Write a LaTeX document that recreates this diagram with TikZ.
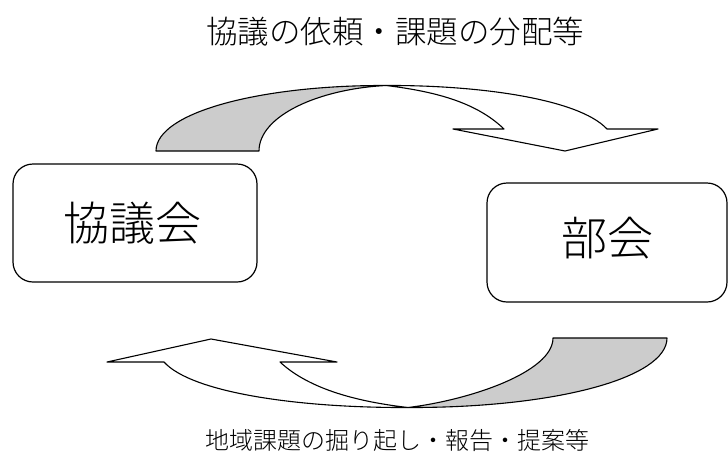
\documentclass[tikz,border=0pt]{standalone}
\usepackage{fontspec}
\newfontfamily\jp{Noto Sans CJK JP Light}
\tikzset{
  box/.style={draw, line width=1.2pt, rounded corners=20pt},
  band/.style={draw, line width=1.1pt, line join=round},
  lbl/.style={font=\jp, inner sep=0pt, anchor=center},
}
\begin{document}
\begin{tikzpicture}[x=1pt,y=-1pt]
\useasboundingbox (0,0) rectangle (728,466);
% boxes
\draw[box] (13,164) rectangle (257,282);
\draw[box] (487,183) rectangle (727,302);
\node[lbl, font=\jp\fontsize{46pt}{46pt}\selectfont] (kyogikai) at (132,223) {協議会};
\node[lbl, font=\jp\fontsize{46pt}{46pt}\selectfont] (bukai) at (607,238) {部会};
% top curved arrow
\draw[band, fill=black!20] (156,151) .. controls (156,112) and (262,85) .. (386,85.5)
   .. controls (318,89) and (259,116) .. (259,151) -- cycle;
\draw[band, fill=white] (386,85.5) .. controls (475,85) and (578,98) .. (607,129)
   -- (658,129) -- (565,151) -- (453,129) -- (504,129)
   .. controls (478,104) and (440,92) .. (386,85.5) -- cycle;
% bottom curved arrow
\draw[band, fill=black!20] (553,338) -- (667,338)
   .. controls (667,378) and (555,408) .. (408,407.5)
   .. controls (470,400) and (553,372) .. (553,338) -- cycle;
\draw[band, fill=white] (408,407.5) .. controls (300,408) and (192,393) .. (164,362)
   -- (107,362) -- (211,339) -- (337,362) -- (280,362)
   .. controls (310,390) and (360,402) .. (408,407.5) -- cycle;
% labels
\node[lbl, font=\jp\fontsize{31.5pt}{31.5pt}\selectfont] (top) at (395,32) {協議の依頼・課題の分配等};
\node[lbl, font=\jp\fontsize{24pt}{24pt}\selectfont] (bottom) at (397,440) {地域課題の掘り起し・報告・提案等};
\end{tikzpicture}
\end{document}
